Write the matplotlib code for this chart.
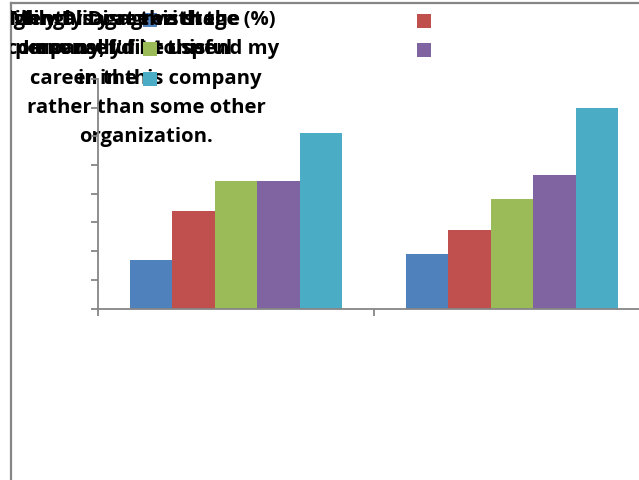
import numpy as np
import matplotlib.pyplot as plt
from matplotlib.patches import Rectangle

W, H = 639, 481

# responses per group, one value per answer level (%)
series_names = ["Strongly disagree", "Disagree", "Neutral", "Agree", "Strongly agree"]
series_colors = ["#4F81BD", "#C0504D", "#9BBB59", "#8064A2", "#4BACC6"]
group_a = [16.8, 34.0, 44.5, 44.5, 61.3]
group_b = [18.9, 27.5, 38.1, 46.7, 70.0]
groups = [group_a, group_b]

# title lines, several labels printed on top of each other
title_lines = [
    ["Mentality at this stage (%)", "I highly Disagree with the", "Willingly Disagree the"],
    ["personally fit to spend my", "company, I'd be useful", "I am useful at this"],
    ["career in this company", "in the"],
    ["rather than some other"],
    ["organization."],
]
line_x = [
    [276, 240, 215],
    [279, 232, 205],
    [146, 108],
    [146],
    [146],
]
line_ha = [
    ["right", "right", "right"],
    ["right", "right", "right"],
    ["center", "center"],
    ["center"],
    ["center"],
]
line_y = [20, 49, 79, 108, 137]

AXIS_GRAY = "#868686"


def fx(x):
    return x / W


def fy(y):
    return 1 - y / H


fig = plt.figure(figsize=(6.39, 4.81), dpi=100)

# outer chart frame, also used to clip the overflowing text
frame = fig.add_axes([fx(11), 0, 1 - fx(11), fy(4)])
frame.set_xticks([])
frame.set_yticks([])
frame.patch.set_visible(False)
for side in ["right", "bottom"]:
    frame.spines[side].set_visible(False)
for side in ["left", "top"]:
    frame.spines[side].set_color(AXIS_GRAY)
    frame.spines[side].set_linewidth(1.6)
frame.set_zorder(1)

for strings, xs, has, y in zip(title_lines, line_x, line_ha, line_y):
    for s, x, ha in zip(strings, xs, has):
        frame.text(fx(x), fy(y), s, transform=fig.transFigure, ha=ha, va="center",
                   fontsize=14.6, fontweight="bold", family=["Open Sans", "DejaVu Sans"],
                   color="black", clip_on=True, zorder=3)

# legend keys
legend_pos = [(150, 21), (424, 22), (150, 50), (424, 51), (150, 80)]
for (cx, cy), c in zip(legend_pos, series_colors):
    z = 2 if c == series_colors[0] else 4
    frame.add_patch(Rectangle((fx(cx - 7), fy(cy + 7)), fx(14), 14 / H, transform=fig.transFigure,
                              facecolor=c, edgecolor="none", zorder=z))

# plot area runs past the right edge of the image
ax = fig.add_axes([fx(98), fy(309.5), 552 / W, 229.5 / H])
ax.set_zorder(2)
ax.patch.set_visible(False)

n = len(series_names)
bar_w = 1 / (n + 1.5)
centers = np.arange(len(groups)) + 0.5
for i, (name, c) in enumerate(zip(series_names, series_colors)):
    vals = [g[i] for g in groups]
    offs = (i - (n - 1) / 2) * bar_w
    ax.bar(centers + offs, vals, width=bar_w, color=c, edgecolor="none", label=name)

ax.set_xlim(0, 2)
ax.set_ylim(0, 80)
ax.set_yticks(np.arange(0, 81, 10))
ax.set_xticks([0, 1, 2])
ax.set_yticklabels([])
ax.set_xticklabels([])
ax.tick_params(axis="both", direction="out", length=5, width=1.3, color=AXIS_GRAY)
for side in ["top", "right"]:
    ax.spines[side].set_visible(False)
for side in ["left", "bottom"]:
    ax.spines[side].set_color(AXIS_GRAY)
    ax.spines[side].set_linewidth(1.3)

fig.savefig("out.png", dpi=100)
